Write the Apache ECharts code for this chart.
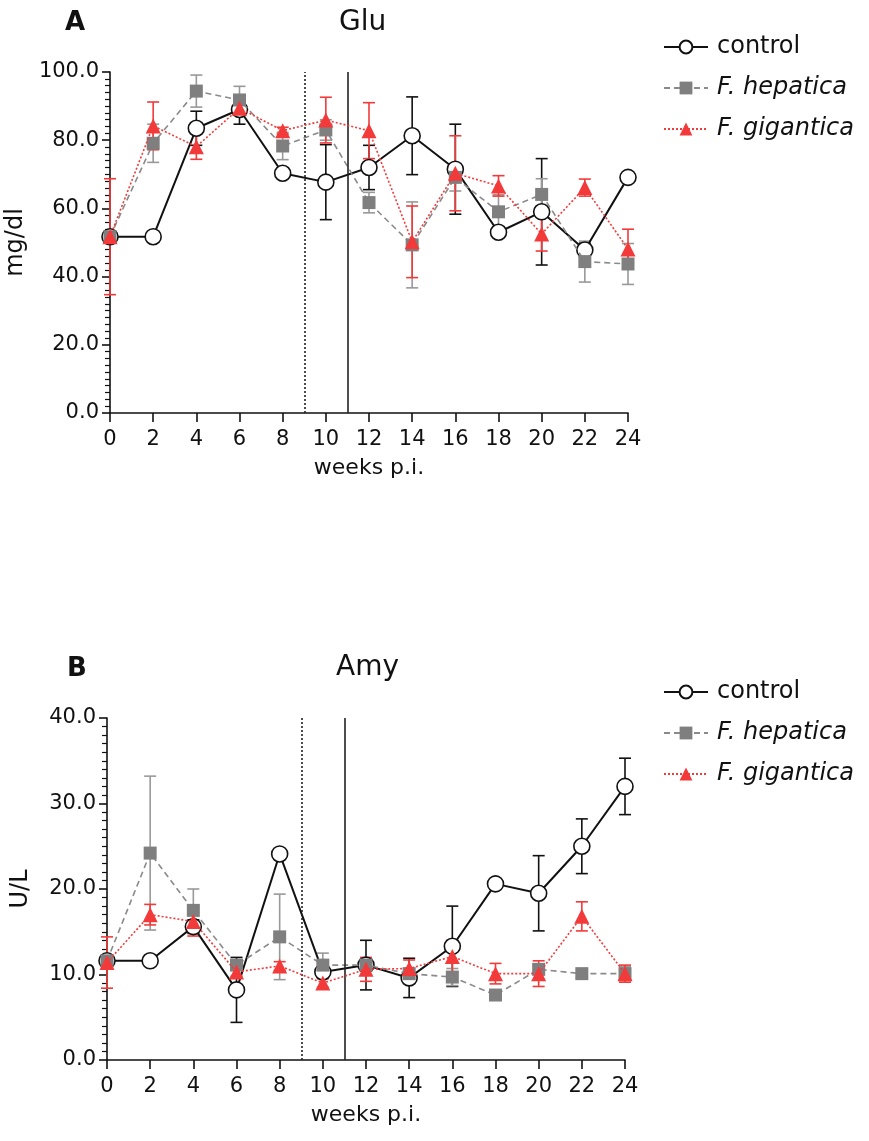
<!DOCTYPE html>
<html>
<head>
<meta charset="utf-8">
<script src="https://cdn.jsdelivr.net/npm/echarts@6/dist/echarts.min.js"></script>
<style>
  html, body { margin: 0; padding: 0; background: #fff; }
  #main { width: 869px; height: 1141px; }
</style>
</head>
<body>
<div id="main"></div>
<script>
// weeks post infection
const weeks = [0, 2, 4, 6, 8, 10, 12, 14, 16, 18, 20, 22, 24];

// Glu (mg/dl)
const gluControl    = [51.7, 51.7, 83.5, 89.0, 70.3, 67.7, 72.0, 81.3, 71.5, 53.0, 59.0, 47.8, 69.1];
const gluControlErr = [0, 0, 5.0, 4.3, 0, 11.0, 6.5, 11.4, 13.2, 0, 15.6, 2.0, 0];
const gluHep        = [51.7, 79.1, 94.4, 91.8, 78.3, 83.0, 61.7, 49.3, 69.1, 59.0, 64.1, 44.4, 43.7];
const gluHepErr     = [0, 5.6, 4.7, 4.0, 4.0, 3.0, 3.0, 12.6, 4.0, 5.0, 4.6, 6.0, 6.0];
const gluGig        = [51.7, 84.2, 78.1, 89.4, 82.8, 85.9, 82.8, 50.2, 70.3, 66.6, 52.5, 66.1, 48.1];
const gluGigErr     = [17.0, 7.0, 3.7, 1.0, 1.0, 6.7, 8.2, 10.5, 11.0, 3.0, 5.0, 2.5, 5.8];

// Amy (U/L)
const amyControl    = [11.6, 11.6, 15.6, 8.2, 24.1, 10.3, 11.1, 9.6, 13.3, 20.6, 19.5, 25.0, 32.0];
const amyControlErr = [0, 0, 0.8, 3.8, 0, 0.6, 2.9, 2.3, 4.7, 0, 4.4, 3.2, 3.3];
const amyHep        = [11.6, 24.2, 17.5, 11.1, 14.4, 11.1, 11.1, 10.1, 9.7, 7.6, 10.6, 10.1, 10.1];
const amyHepErr     = [0.5, 9.0, 2.5, 0.6, 5.0, 1.4, 0.6, 0.6, 1.0, 0.3, 0.5, 0.5, 0.8];
const amyGig        = [11.4, 17.0, 16.2, 10.3, 11.0, 9.0, 10.6, 10.7, 12.1, 10.1, 10.1, 16.8, 10.1];
const amyGigErr     = [3.0, 1.2, 1.7, 0.5, 0.5, 0.5, 1.4, 1.0, 1.9, 1.2, 1.5, 1.7, 1.0];

const groups = ['control', 'F. hepatica', 'F. gigantica'];
const markerLines = [9, 11];

const FONT = 'DejaVu Sans, Liberation Sans, sans-serif';
const RED = '#f23a3a';
const GREY = '#7f7f7f';

function pairs(ys) {
  return weeks.map((w, i) => [w, ys[i]]);
}
function triples(ys, es) {
  return weeks.map((w, i) => [w, ys[i], es[i]]);
}

// vertical whisker with caps
function errorBar(color) {
  return function (params, api) {
    const x = api.value(0), y = api.value(1), e = api.value(2);
    if (!e) return null;
    const hi = api.coord([x, y + e]);
    const lo = api.coord([x, Math.max(0, y - e)]);
    const c = 6;
    const st = { stroke: color, lineWidth: 1.6 };
    return {
      type: 'group',
      children: [
        { type: 'line', shape: { x1: hi[0], y1: hi[1], x2: lo[0], y2: lo[1] }, style: st },
        { type: 'line', shape: { x1: hi[0] - c, y1: hi[1], x2: hi[0] + c, y2: hi[1] }, style: st },
        { type: 'line', shape: { x1: lo[0] - c, y1: lo[1], x2: lo[0] + c, y2: lo[1] }, style: st }
      ]
    };
  };
}

function panelSeries(idx, ctl, ctlE, hep, hepE, gig, gigE) {
  const base = { xAxisIndex: idx, yAxisIndex: idx };
  return [
    Object.assign({
      type: 'line', name: 'control', data: pairs(ctl), z: 3,
      symbol: 'circle', symbolSize: 16,
      itemStyle: { color: '#fff', borderColor: '#111', borderWidth: 1.6 },
      lineStyle: { color: '#111', width: 2 },
      markLine: {
        silent: true, symbol: 'none', label: { show: false },
        data: [
          { xAxis: markerLines[0], lineStyle: { type: [2, 2], color: '#222', width: 1.6 } },
          { xAxis: markerLines[1], lineStyle: { type: 'solid', color: '#222', width: 1.6 } }
        ]
      }
    }, base),
    Object.assign({
      type: 'line', name: 'F. hepatica', data: pairs(hep), z: 4,
      symbol: 'rect', symbolSize: 13,
      itemStyle: { color: GREY },
      lineStyle: { color: '#8a8a8a', width: 1.6, type: [6, 4] }
    }, base),
    Object.assign({
      type: 'line', name: 'F. gigantica', data: pairs(gig), z: 5,
      symbol: 'triangle', symbolSize: 15,
      itemStyle: { color: RED },
      lineStyle: { color: RED, width: 1.6, type: [2, 2] }
    }, base),
    Object.assign({ type: 'custom', name: 'control sd', renderItem: errorBar('#111'), data: triples(ctl, ctlE), encode: { x: 0, y: 1 }, z: 1 }, base),
    Object.assign({ type: 'custom', name: 'F. hepatica sd', renderItem: errorBar('#999'), data: triples(hep, hepE), encode: { x: 0, y: 1 }, z: 1 }, base),
    Object.assign({ type: 'custom', name: 'F. gigantica sd', renderItem: errorBar(RED), data: triples(gig, gigE), encode: { x: 0, y: 1 }, z: 1 }, base)
  ];
}

function xAxisCfg(idx) {
  return {
    type: 'value', gridIndex: idx, min: 0, max: 24, interval: 2,
    name: 'weeks p.i.', nameLocation: 'middle', nameGap: 44,
    nameTextStyle: { fontSize: 22, color: '#111', fontFamily: FONT },
    axisLine: { lineStyle: { color: '#111', width: 1.6 } },
    axisTick: { length: 9, lineStyle: { color: '#111', width: 1.6 } },
    axisLabel: { fontSize: 21, color: '#111', fontFamily: FONT, margin: 16 },
    splitLine: { show: false }
  };
}

function yAxisCfg(idx, max, interval, name, gap) {
  return {
    type: 'value', gridIndex: idx, min: 0, max: max, interval: interval,
    name: name, nameLocation: 'middle', nameGap: gap,
    nameTextStyle: { fontSize: 24, color: '#111', fontFamily: FONT },
    axisLine: { show: true, lineStyle: { color: '#111', width: 1.6 } },
    axisTick: { show: true, length: 8, lineStyle: { color: '#111', width: 1.6 } },
    minorTick: { show: true, splitNumber: 10, length: 5, lineStyle: { color: '#111', width: 1.2 } },
    axisLabel: { fontSize: 21, color: '#111', fontFamily: FONT, margin: 11, formatter: v => v.toFixed(1) },
    splitLine: { show: false }
  };
}

function legendCfg(top) {
  return {
    orient: 'vertical', left: 658, top: top,
    itemWidth: 44, itemHeight: 16, itemGap: 17,
    data: groups,
    formatter: n => n === 'control' ? n : '{i|' + n + '}',
    textStyle: {
      fontSize: 24, color: '#111', fontFamily: FONT, padding: [0, 0, 0, 4],
      rich: { i: { fontSize: 24, fontStyle: 'italic', color: '#111', fontFamily: FONT } }
    }
  };
}

const chart = echarts.init(document.getElementById('main'), null, { renderer: 'canvas' });

chart.setOption({
  backgroundColor: '#fff',
  animation: false,
  title: [
    { text: 'A', left: 60, top: 5, textStyle: { fontSize: 26, fontWeight: 'bold', color: '#111', fontFamily: FONT } },
    { text: 'Glu', left: 334, top: 4, textStyle: { fontSize: 28, fontWeight: 'normal', color: '#111', fontFamily: FONT } },
    { text: 'B', left: 62, top: 651, textStyle: { fontSize: 26, fontWeight: 'bold', color: '#111', fontFamily: FONT } },
    { text: 'Amy', left: 331, top: 649, textStyle: { fontSize: 28, fontWeight: 'normal', color: '#111', fontFamily: FONT } }
  ],
  legend: [legendCfg(30), legendCfg(675)],
  grid: [
    { left: 110, top: 72, width: 518, height: 341, outerBoundsMode: 'none', containLabel: false },
    { left: 107, top: 718, width: 518, height: 342, outerBoundsMode: 'none', containLabel: false }
  ],
  xAxis: [xAxisCfg(0), xAxisCfg(1)],
  yAxis: [yAxisCfg(0, 100, 20, 'mg/dl', 76), yAxisCfg(1, 40, 10, 'U/L', 74)],
  series: [].concat(
    panelSeries(0, gluControl, gluControlErr, gluHep, gluHepErr, gluGig, gluGigErr),
    panelSeries(1, amyControl, amyControlErr, amyHep, amyHepErr, amyGig, amyGigErr)
  )
});
</script>
</body>
</html>
